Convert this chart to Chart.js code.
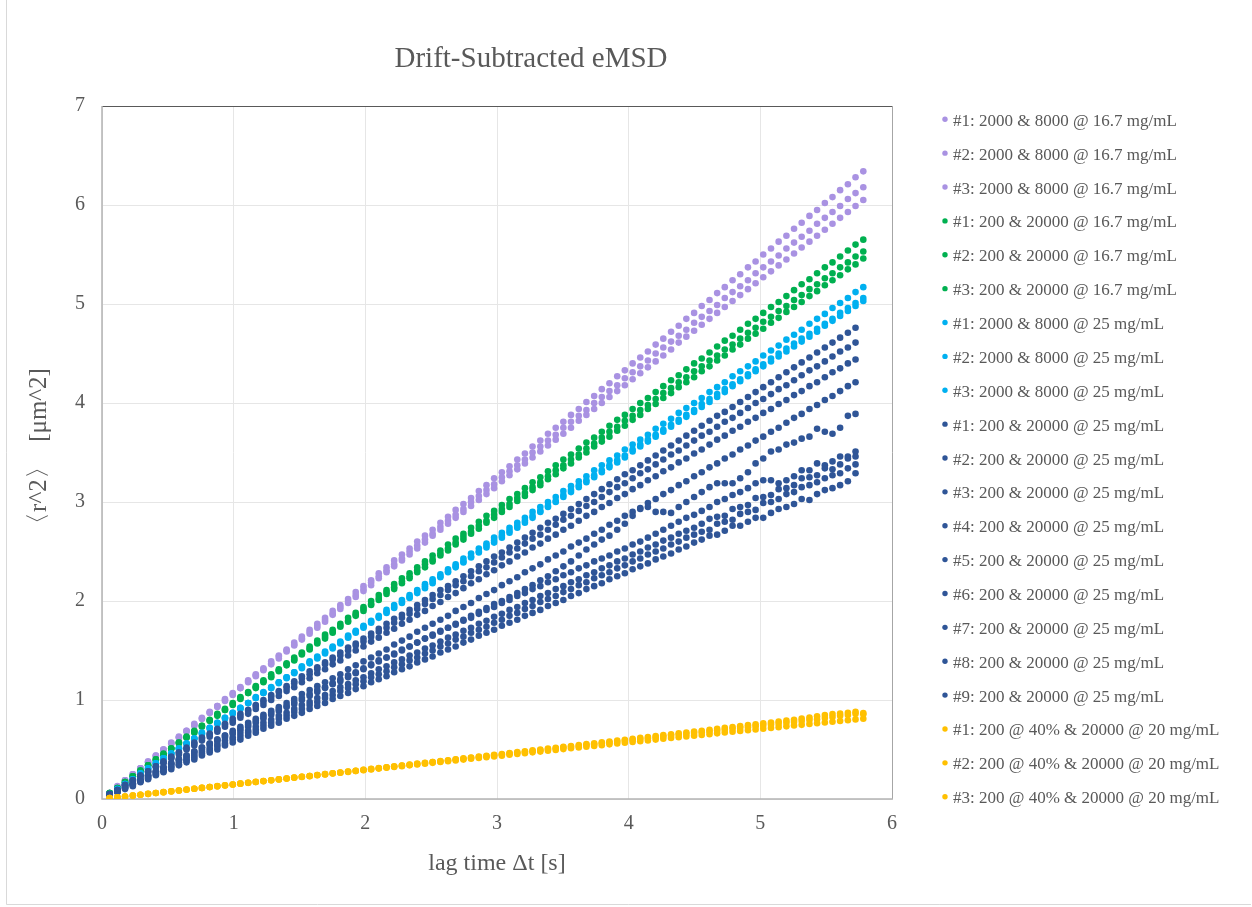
<!DOCTYPE html>
<html><head><meta charset="utf-8">
<script src="https://cdn.jsdelivr.net/npm/chart.js@4.4.1/dist/chart.umd.min.js"></script>
<style>html,body{margin:0;padding:0;background:#fff;}#wrap{position:relative;width:1252px;height:907px;}</style>
</head><body><div id="wrap"><canvas id="c" width="1252" height="907"></canvas></div>
<script>
const chartTitle = 'Drift-Subtracted eMSD';
const xTitle = 'lag time Δt [s]';
const yTitle = '〈r^2〉  [μm^2]';

const lagTimes = [0.058,0.117,0.175,0.234,0.292,0.350,0.409,0.467,0.526,0.584,
0.642,0.701,0.759,0.818,0.876,0.934,0.993,1.051,1.110,1.168,
1.226,1.285,1.343,1.402,1.460,1.518,1.577,1.635,1.694,1.752,
1.810,1.869,1.927,1.986,2.044,2.102,2.161,2.219,2.278,2.336,
2.394,2.453,2.511,2.570,2.628,2.686,2.745,2.803,2.862,2.920,
2.978,3.037,3.095,3.154,3.212,3.270,3.329,3.387,3.446,3.504,
3.562,3.621,3.679,3.738,3.796,3.854,3.913,3.971,4.030,4.088,
4.146,4.205,4.263,4.322,4.380,4.438,4.497,4.555,4.614,4.672,
4.730,4.789,4.847,4.906,4.964,5.022,5.081,5.139,5.198,5.256,
5.314,5.373,5.431,5.490,5.548,5.606,5.665,5.723,5.782];

const seriesLabels = [
'#1: 2000 & 8000 @ 16.7 mg/mL','#2: 2000 & 8000 @ 16.7 mg/mL','#3: 2000 & 8000 @ 16.7 mg/mL',
'#1: 200 & 20000 @ 16.7 mg/mL','#2: 200 & 20000 @ 16.7 mg/mL','#3: 200 & 20000 @ 16.7 mg/mL',
'#1: 2000 & 8000 @ 25 mg/mL','#2: 2000 & 8000 @ 25 mg/mL','#3: 2000 & 8000 @ 25 mg/mL',
'#1: 200 & 20000 @ 25 mg/mL','#2: 200 & 20000 @ 25 mg/mL','#3: 200 & 20000 @ 25 mg/mL',
'#4: 200 & 20000 @ 25 mg/mL','#5: 200 & 20000 @ 25 mg/mL','#6: 200 & 20000 @ 25 mg/mL',
'#7: 200 & 20000 @ 25 mg/mL','#8: 200 & 20000 @ 25 mg/mL','#9: 200 & 20000 @ 25 mg/mL',
'#1: 200 @ 40% & 20000 @ 20 mg/mL','#2: 200 @ 40% & 20000 @ 20 mg/mL','#3: 200 @ 40% & 20000 @ 20 mg/mL'];

const purple1 = [0.06,0.13,0.19,0.25,0.31,0.38,0.44,0.50,0.57,0.63,
0.69,0.76,0.82,0.88,0.94,1.01,1.07,1.13,1.20,1.26,
1.32,1.39,1.45,1.51,1.58,1.64,1.71,1.77,1.83,1.90,
1.96,2.02,2.09,2.15,2.21,2.28,2.34,2.41,2.47,2.53,
2.60,2.66,2.72,2.79,2.85,2.92,2.98,3.04,3.11,3.17,
3.24,3.30,3.36,3.43,3.49,3.56,3.62,3.69,3.75,3.81,
3.88,3.94,4.01,4.07,4.14,4.20,4.27,4.33,4.40,4.46,
4.52,4.59,4.65,4.72,4.78,4.85,4.91,4.98,5.04,5.11,
5.17,5.24,5.30,5.37,5.43,5.50,5.56,5.63,5.69,5.76,
5.82,5.89,5.95,6.02,6.08,6.15,6.21,6.28,6.34];
const purple2 = [0.06,0.12,0.19,0.25,0.31,0.37,0.44,0.50,0.56,0.62,
0.69,0.75,0.81,0.87,0.94,1.00,1.06,1.12,1.19,1.25,
1.31,1.37,1.44,1.50,1.56,1.62,1.69,1.75,1.81,1.87,
1.94,2.00,2.06,2.12,2.19,2.25,2.31,2.37,2.43,2.50,
2.56,2.62,2.68,2.75,2.81,2.87,2.93,3.00,3.06,3.12,
3.18,3.25,3.31,3.37,3.43,3.50,3.56,3.62,3.68,3.75,
3.81,3.87,3.93,4.00,4.06,4.12,4.18,4.25,4.31,4.37,
4.43,4.50,4.56,4.62,4.68,4.74,4.81,4.87,4.93,4.99,
5.06,5.12,5.18,5.24,5.31,5.37,5.43,5.49,5.56,5.62,
5.68,5.74,5.81,5.87,5.93,5.99,6.06,6.12,6.18];
const purple3 = [0.06,0.12,0.19,0.25,0.31,0.37,0.43,0.50,0.56,0.62,
0.68,0.74,0.81,0.87,0.93,0.99,1.05,1.12,1.18,1.24,
1.30,1.36,1.42,1.49,1.55,1.61,1.67,1.73,1.79,1.86,
1.92,1.98,2.04,2.10,2.16,2.23,2.29,2.35,2.41,2.47,
2.53,2.59,2.66,2.72,2.78,2.84,2.90,2.96,3.02,3.08,
3.14,3.21,3.27,3.33,3.39,3.45,3.51,3.57,3.63,3.69,
3.75,3.82,3.88,3.94,4.00,4.06,4.12,4.18,4.24,4.30,
4.36,4.42,4.48,4.54,4.61,4.67,4.73,4.79,4.85,4.91,
4.97,5.03,5.09,5.15,5.21,5.27,5.33,5.39,5.45,5.51,
5.57,5.63,5.69,5.75,5.81,5.87,5.93,5.99,6.05];
const green1 = [0.06,0.11,0.17,0.23,0.29,0.34,0.40,0.46,0.51,0.57,
0.63,0.69,0.74,0.80,0.86,0.91,0.97,1.03,1.08,1.14,
1.20,1.26,1.31,1.37,1.43,1.48,1.54,1.60,1.66,1.71,
1.77,1.83,1.88,1.94,2.00,2.06,2.11,2.17,2.23,2.28,
2.34,2.40,2.46,2.51,2.57,2.63,2.68,2.74,2.80,2.86,
2.91,2.97,3.03,3.08,3.14,3.20,3.25,3.31,3.37,3.43,
3.48,3.54,3.60,3.65,3.71,3.77,3.83,3.88,3.94,4.00,
4.05,4.11,4.17,4.23,4.28,4.34,4.40,4.45,4.51,4.57,
4.63,4.68,4.74,4.80,4.85,4.91,4.97,5.02,5.08,5.14,
5.20,5.25,5.31,5.37,5.42,5.48,5.54,5.60,5.65];
const green2 = [0.06,0.11,0.17,0.23,0.28,0.34,0.40,0.45,0.51,0.57,
0.62,0.68,0.74,0.79,0.85,0.90,0.96,1.02,1.07,1.13,
1.19,1.24,1.30,1.36,1.41,1.47,1.52,1.58,1.64,1.69,
1.75,1.80,1.86,1.92,1.97,2.03,2.09,2.14,2.20,2.25,
2.31,2.37,2.42,2.48,2.53,2.59,2.65,2.70,2.76,2.81,
2.87,2.93,2.98,3.04,3.09,3.15,3.20,3.26,3.32,3.37,
3.43,3.48,3.54,3.59,3.65,3.71,3.76,3.82,3.87,3.93,
3.98,4.04,4.10,4.15,4.21,4.26,4.32,4.37,4.43,4.48,
4.54,4.59,4.65,4.71,4.76,4.82,4.87,4.93,4.98,5.04,
5.09,5.15,5.20,5.26,5.31,5.37,5.42,5.48,5.53];
const green3 = [0.06,0.11,0.17,0.23,0.28,0.34,0.39,0.45,0.51,0.56,
0.62,0.67,0.73,0.79,0.84,0.90,0.95,1.01,1.07,1.12,
1.18,1.23,1.29,1.35,1.40,1.46,1.51,1.57,1.62,1.68,
1.74,1.79,1.85,1.90,1.96,2.01,2.07,2.12,2.18,2.23,
2.29,2.34,2.40,2.46,2.51,2.57,2.62,2.68,2.73,2.79,
2.84,2.90,2.95,3.01,3.06,3.12,3.17,3.23,3.28,3.34,
3.39,3.45,3.50,3.56,3.61,3.66,3.72,3.77,3.83,3.88,
3.94,3.99,4.05,4.10,4.16,4.21,4.26,4.32,4.37,4.43,
4.48,4.54,4.59,4.65,4.70,4.75,4.81,4.86,4.92,4.97,
5.02,5.08,5.13,5.19,5.24,5.29,5.35,5.40,5.46];
const cyan1 = [0.05,0.10,0.15,0.20,0.26,0.31,0.36,0.41,0.46,0.51,
0.56,0.61,0.67,0.72,0.77,0.82,0.87,0.92,0.97,1.03,
1.08,1.13,1.18,1.23,1.28,1.34,1.39,1.44,1.49,1.54,
1.59,1.65,1.70,1.75,1.80,1.85,1.91,1.96,2.01,2.06,
2.11,2.17,2.22,2.27,2.32,2.37,2.43,2.48,2.53,2.58,
2.64,2.69,2.74,2.79,2.84,2.90,2.95,3.00,3.05,3.11,
3.16,3.21,3.26,3.32,3.37,3.42,3.47,3.53,3.58,3.63,
3.68,3.74,3.79,3.84,3.90,3.95,4.00,4.05,4.11,4.16,
4.21,4.27,4.32,4.37,4.42,4.48,4.53,4.58,4.64,4.69,
4.74,4.80,4.85,4.90,4.96,5.01,5.06,5.12,5.17];
const cyan2 = [0.05,0.10,0.15,0.20,0.26,0.31,0.36,0.41,0.46,0.51,
0.56,0.61,0.66,0.72,0.77,0.82,0.87,0.92,0.97,1.02,
1.07,1.12,1.18,1.23,1.28,1.33,1.38,1.43,1.48,1.53,
1.58,1.64,1.69,1.74,1.79,1.84,1.89,1.94,1.99,2.04,
2.10,2.15,2.20,2.25,2.30,2.35,2.40,2.45,2.50,2.56,
2.61,2.66,2.71,2.76,2.81,2.86,2.91,2.96,3.01,3.07,
3.12,3.17,3.22,3.27,3.32,3.37,3.42,3.47,3.53,3.58,
3.63,3.68,3.73,3.78,3.83,3.88,3.93,3.99,4.04,4.09,
4.14,4.19,4.24,4.29,4.34,4.39,4.45,4.50,4.55,4.60,
4.65,4.70,4.75,4.80,4.85,4.91,4.96,5.01,5.06];
const cyan3 = [0.05,0.10,0.15,0.20,0.25,0.30,0.36,0.41,0.46,0.51,
0.56,0.61,0.66,0.71,0.76,0.81,0.86,0.91,0.97,1.02,
1.07,1.12,1.17,1.22,1.27,1.32,1.37,1.42,1.47,1.52,
1.57,1.63,1.68,1.73,1.78,1.83,1.88,1.93,1.98,2.03,
2.08,2.13,2.18,2.24,2.29,2.34,2.39,2.44,2.49,2.54,
2.59,2.64,2.69,2.74,2.79,2.84,2.90,2.95,3.00,3.05,
3.10,3.15,3.20,3.25,3.30,3.35,3.40,3.45,3.51,3.56,
3.61,3.66,3.71,3.76,3.81,3.86,3.91,3.96,4.01,4.06,
4.11,4.17,4.22,4.27,4.32,4.37,4.42,4.47,4.52,4.57,
4.62,4.67,4.72,4.78,4.83,4.88,4.93,4.98,5.03];
const navy1 = [0.05,0.09,0.14,0.19,0.24,0.28,0.33,0.38,0.43,0.47,
0.52,0.57,0.62,0.66,0.71,0.76,0.81,0.86,0.90,0.95,
1.00,1.05,1.09,1.14,1.19,1.24,1.29,1.33,1.38,1.43,
1.48,1.53,1.57,1.62,1.67,1.72,1.77,1.82,1.86,1.91,
1.96,2.01,2.06,2.11,2.15,2.20,2.25,2.30,2.35,2.40,
2.45,2.49,2.54,2.59,2.64,2.69,2.74,2.79,2.83,2.88,
2.93,2.98,3.03,3.08,3.13,3.18,3.23,3.28,3.32,3.37,
3.42,3.47,3.52,3.57,3.62,3.67,3.72,3.77,3.82,3.87,
3.91,3.96,4.01,4.06,4.11,4.16,4.21,4.26,4.31,4.36,
4.41,4.46,4.51,4.56,4.61,4.66,4.71,4.76];
const navy2 = [0.05,0.09,0.14,0.19,0.23,0.28,0.33,0.37,0.42,0.47,
0.51,0.56,0.61,0.65,0.70,0.75,0.79,0.84,0.89,0.94,
0.98,1.03,1.08,1.12,1.17,1.22,1.26,1.31,1.36,1.41,
1.45,1.50,1.55,1.59,1.64,1.69,1.73,1.78,1.83,1.87,
1.92,1.97,2.02,2.06,2.11,2.16,2.20,2.25,2.30,2.34,
2.39,2.44,2.49,2.53,2.58,2.63,2.67,2.72,2.77,2.82,
2.86,2.91,2.96,3.00,3.05,3.10,3.15,3.19,3.24,3.29,
3.33,3.38,3.43,3.48,3.52,3.57,3.62,3.67,3.71,3.76,
3.81,3.85,3.90,3.95,4.00,4.04,4.09,4.14,4.18,4.23,
4.28,4.33,4.37,4.42,4.47,4.52,4.56,4.61];
const navy3 = [0.05,0.09,0.14,0.18,0.23,0.27,0.32,0.36,0.41,0.45,
0.50,0.54,0.59,0.63,0.68,0.73,0.77,0.82,0.86,0.91,
0.95,1.00,1.04,1.09,1.13,1.18,1.22,1.27,1.31,1.36,
1.40,1.45,1.50,1.54,1.59,1.63,1.68,1.72,1.77,1.81,
1.86,1.90,1.95,1.99,2.04,2.08,2.13,2.18,2.22,2.27,
2.31,2.36,2.40,2.45,2.49,2.54,2.58,2.63,2.67,2.72,
2.76,2.81,2.86,2.90,2.95,2.99,3.04,3.08,3.13,3.17,
3.22,3.26,3.31,3.35,3.40,3.44,3.49,3.53,3.58,3.63,
3.67,3.72,3.76,3.81,3.85,3.90,3.94,3.99,4.03,4.08,
4.12,4.17,4.21,4.26,4.31,4.35,4.40,4.44];
const navy4 = [0.04,0.08,0.12,0.16,0.20,0.24,0.28,0.32,0.36,0.40,
0.44,0.48,0.52,0.56,0.60,0.64,0.69,0.73,0.77,0.81,
0.85,0.89,0.93,0.97,1.01,1.06,1.10,1.14,1.18,1.22,
1.26,1.31,1.35,1.39,1.43,1.47,1.51,1.56,1.60,1.64,
1.69,1.73,1.77,1.81,1.85,1.90,1.94,1.98,2.03,2.07,
2.11,2.16,2.20,2.24,2.29,2.33,2.37,2.42,2.46,2.50,
2.55,2.59,2.63,2.68,2.72,2.77,2.81,2.86,2.90,2.94,
2.99,3.03,3.08,3.12,3.17,3.21,3.26,3.30,3.35,3.39,
3.44,3.48,3.53,3.57,3.62,3.66,3.71,3.75,3.80,3.85,
3.89,3.94,3.98,4.03,4.07,4.12,4.17,4.21];
const navy5 = [0.04,0.08,0.12,0.15,0.19,0.23,0.27,0.31,0.35,0.39,
0.42,0.46,0.50,0.54,0.58,0.62,0.66,0.69,0.73,0.77,
0.81,0.85,0.89,0.93,0.96,1.00,1.04,1.08,1.12,1.16,
1.19,1.23,1.27,1.31,1.35,1.39,1.43,1.46,1.50,1.54,
1.58,1.62,1.66,1.70,1.73,1.77,1.81,1.85,1.89,1.93,
1.97,2.00,2.04,2.08,2.12,2.16,2.21,2.25,2.30,2.35,
2.40,2.46,2.52,2.57,2.62,2.66,2.72,2.78,2.86,2.93,
2.95,2.90,2.90,2.89,2.95,3.00,3.05,3.10,3.15,3.19,
3.19,3.19,3.24,3.30,3.39,3.44,3.51,3.53,3.58,3.60,
3.64,3.66,3.74,3.71,3.69,3.75,3.87,3.89];
const navy6 = [0.04,0.08,0.12,0.16,0.20,0.24,0.28,0.32,0.36,0.40,
0.44,0.48,0.52,0.56,0.60,0.64,0.67,0.71,0.75,0.79,
0.83,0.87,0.91,0.94,0.98,1.02,1.06,1.10,1.13,1.17,
1.21,1.25,1.28,1.32,1.36,1.40,1.43,1.47,1.51,1.54,
1.58,1.62,1.65,1.69,1.73,1.76,1.80,1.83,1.87,1.91,
1.94,1.98,2.01,2.05,2.08,2.12,2.15,2.19,2.22,2.26,
2.29,2.33,2.36,2.40,2.43,2.46,2.50,2.53,2.57,2.60,
2.64,2.68,2.72,2.76,2.80,2.84,2.87,2.91,2.95,3.00,
3.03,3.07,3.10,3.14,3.19,3.22,3.22,3.19,3.22,3.26,
3.32,3.32,3.39,3.37,3.41,3.46,3.46,3.51];
const navy7 = [0.04,0.07,0.11,0.15,0.18,0.22,0.26,0.29,0.33,0.37,
0.40,0.44,0.48,0.51,0.55,0.59,0.62,0.66,0.69,0.73,
0.77,0.80,0.84,0.87,0.91,0.95,0.98,1.02,1.05,1.09,
1.13,1.16,1.20,1.23,1.27,1.31,1.34,1.38,1.41,1.45,
1.48,1.52,1.55,1.59,1.63,1.66,1.70,1.73,1.77,1.80,
1.84,1.87,1.91,1.94,1.98,2.01,2.05,2.08,2.12,2.15,
2.19,2.22,2.26,2.29,2.33,2.36,2.40,2.43,2.47,2.50,
2.54,2.57,2.61,2.64,2.68,2.71,2.74,2.78,2.83,2.85,
2.86,2.93,2.95,2.97,3.04,3.05,3.07,3.13,3.14,3.17,
3.24,3.25,3.27,3.34,3.33,3.38,3.44,3.46];
const navy8 = [0.04,0.07,0.11,0.14,0.18,0.21,0.25,0.28,0.32,0.35,
0.39,0.42,0.46,0.49,0.53,0.56,0.60,0.63,0.67,0.70,
0.74,0.77,0.81,0.84,0.88,0.91,0.95,0.98,1.02,1.05,
1.09,1.12,1.16,1.19,1.23,1.26,1.29,1.33,1.36,1.40,
1.43,1.47,1.50,1.54,1.57,1.61,1.64,1.68,1.71,1.74,
1.78,1.81,1.85,1.88,1.92,1.95,1.99,2.02,2.05,2.09,
2.12,2.16,2.19,2.23,2.26,2.29,2.33,2.36,2.40,2.43,
2.47,2.50,2.53,2.57,2.60,2.64,2.67,2.70,2.72,2.78,
2.80,2.82,2.88,2.90,2.92,2.99,3.00,3.03,3.08,3.10,
3.15,3.17,3.20,3.24,3.27,3.29,3.34,3.38];
const navy9 = [0.03,0.07,0.10,0.13,0.17,0.20,0.24,0.27,0.30,0.34,
0.37,0.40,0.44,0.47,0.50,0.54,0.57,0.60,0.64,0.67,
0.71,0.74,0.77,0.81,0.84,0.87,0.91,0.94,0.97,1.01,
1.04,1.07,1.11,1.14,1.18,1.21,1.24,1.28,1.31,1.34,
1.38,1.41,1.44,1.48,1.51,1.54,1.58,1.61,1.65,1.68,
1.71,1.75,1.78,1.81,1.85,1.88,1.91,1.95,1.98,2.01,
2.05,2.08,2.12,2.15,2.18,2.22,2.25,2.28,2.32,2.35,
2.38,2.42,2.45,2.48,2.52,2.55,2.59,2.62,2.66,2.67,
2.71,2.76,2.76,2.80,2.84,2.84,2.89,2.93,2.95,2.98,
3.03,3.02,3.08,3.12,3.14,3.17,3.21,3.29];
const gold1 = [0.009,0.017,0.026,0.034,0.043,0.051,0.060,0.068,0.077,0.086,
0.094,0.103,0.112,0.120,0.129,0.137,0.146,0.155,0.164,0.172,
0.181,0.190,0.198,0.207,0.216,0.225,0.233,0.242,0.251,0.260,
0.268,0.277,0.286,0.295,0.304,0.312,0.321,0.330,0.339,0.348,
0.357,0.366,0.374,0.383,0.392,0.401,0.410,0.419,0.428,0.437,
0.446,0.455,0.464,0.473,0.482,0.491,0.500,0.509,0.518,0.527,
0.536,0.545,0.554,0.563,0.572,0.581,0.590,0.599,0.608,0.617,
0.627,0.636,0.645,0.654,0.663,0.672,0.681,0.690,0.700,0.709,
0.718,0.727,0.736,0.746,0.755,0.764,0.773,0.783,0.792,0.801,
0.812,0.823,0.835,0.848,0.858,0.862,0.870,0.882,0.868];
const gold2 = [0.009,0.017,0.026,0.035,0.043,0.052,0.061,0.069,0.078,0.086,
0.095,0.104,0.112,0.121,0.130,0.138,0.147,0.156,0.164,0.173,
0.182,0.190,0.199,0.207,0.216,0.225,0.233,0.242,0.251,0.259,
0.268,0.277,0.285,0.294,0.303,0.311,0.320,0.328,0.337,0.346,
0.354,0.363,0.372,0.380,0.389,0.398,0.406,0.415,0.424,0.432,
0.441,0.449,0.458,0.467,0.475,0.484,0.493,0.501,0.510,0.519,
0.527,0.536,0.545,0.553,0.562,0.570,0.579,0.588,0.596,0.605,
0.614,0.622,0.631,0.640,0.648,0.657,0.666,0.674,0.683,0.691,
0.700,0.709,0.717,0.726,0.735,0.743,0.752,0.761,0.769,0.778,
0.787,0.797,0.806,0.818,0.828,0.840,0.848,0.860,0.855];
const gold3 = [0.009,0.017,0.026,0.035,0.043,0.052,0.061,0.069,0.078,0.086,
0.095,0.104,0.112,0.121,0.129,0.138,0.146,0.155,0.163,0.172,
0.180,0.189,0.197,0.206,0.214,0.223,0.231,0.240,0.248,0.257,
0.265,0.273,0.282,0.290,0.298,0.307,0.315,0.323,0.332,0.340,
0.348,0.356,0.365,0.373,0.381,0.389,0.398,0.406,0.414,0.422,
0.430,0.438,0.447,0.455,0.463,0.471,0.479,0.487,0.495,0.504,
0.512,0.520,0.528,0.536,0.544,0.552,0.560,0.568,0.576,0.584,
0.592,0.600,0.608,0.616,0.624,0.632,0.640,0.647,0.655,0.663,
0.671,0.679,0.687,0.695,0.703,0.710,0.718,0.726,0.734,0.742,
0.749,0.757,0.765,0.773,0.780,0.788,0.796,0.804,0.811];

const seriesValues = [purple1,purple2,purple3,green1,green2,green3,cyan1,cyan2,cyan3,
navy1,navy2,navy3,navy4,navy5,navy6,navy7,navy8,navy9,gold1,gold2,gold3];
const seriesColors = ['#A992E2','#A992E2','#A992E2','#00B050','#00B050','#00B050',
'#00B0F0','#00B0F0','#00B0F0','#2F5597','#2F5597','#2F5597','#2F5597','#2F5597',
'#2F5597','#2F5597','#2F5597','#2F5597','#FFC000','#FFC000','#FFC000'];

const FONT = "'Liberation Serif','Times New Roman',serif";
const TXT = '#595959';

const datasets = seriesValues.map((vals, i) => ({
  label: seriesLabels[i],
  data: vals.map((v, j) => ({x: lagTimes[j], y: v})),
  backgroundColor: seriesColors[i],
  borderWidth: 0,
  pointRadius: 3.3,
  pointHoverRadius: 3.3,
  showLine: false,
  order: -i
}));

const decor = {
  id: 'decor',
  beforeDraw(chart) {
    const c = chart.ctx;
    c.save(); c.fillStyle = '#fff'; c.fillRect(0, 0, chart.width, chart.height); c.restore();
  },
  beforeDatasetsDraw(chart) {
    const c = chart.ctx, a = chart.chartArea;
    c.save();
    c.lineWidth = 1;
    c.strokeStyle = '#595959';
    c.beginPath(); c.moveTo(a.left, a.top + 0.5); c.lineTo(a.right, a.top + 0.5); c.stroke();
    c.strokeStyle = '#a6a6a6';
    c.beginPath(); c.moveTo(a.right + 0.5, a.top); c.lineTo(a.right + 0.5, a.bottom); c.stroke();
    c.strokeStyle = '#b4b4b4'; c.lineWidth = 1.5;
    c.beginPath(); c.moveTo(a.left, a.top); c.lineTo(a.left, a.bottom); c.lineTo(a.right + 1, a.bottom); c.stroke();
    c.restore();
  },
  afterDraw(chart) {
    const c = chart.ctx;
    c.save();
    c.fillStyle = TXT;
    c.font = "29px " + FONT;
    c.textAlign = 'center'; c.textBaseline = 'alphabetic';
    c.fillText(chartTitle, 531, 67);
    c.font = "17px " + FONT;
    c.textAlign = 'left';
    chart.data.datasets.forEach((ds, i) => {
      const y = 119.3 + i * 33.87;
      c.beginPath(); c.arc(945, y, 2.7, 0, Math.PI * 2);
      c.fillStyle = ds.backgroundColor; c.fill();
      c.fillStyle = TXT;
      c.fillText(ds.label, 953, y + 6.5);
    });
    c.strokeStyle = '#d9d9d9'; c.lineWidth = 1;
    c.beginPath(); c.moveTo(6.5, 0); c.lineTo(6.5, 904.5); c.lineTo(1251, 904.5); c.stroke();
    c.restore();
  }
};

Chart.defaults.font.family = FONT;
new Chart(document.getElementById('c'), {
  type: 'scatter',
  data: {datasets},
  options: {
    responsive: false, animation: false, devicePixelRatio: 1,
    layout: {padding: {left: 0, right: 360, top: 106, bottom: 0}},
    plugins: {legend: {display: false}, title: {display: false}, tooltip: {enabled: false}},
    scales: {
      x: {
        type: 'linear', min: 0, max: 6,
        ticks: {stepSize: 1, padding: 13, color: TXT, font: {size: 20}},
        grid: {color: '#e6e6e6', drawTicks: false},
        border: {display: false},
        title: {display: true, text: xTitle, color: TXT, font: {size: 24}, padding: {top: 0, bottom: 29}},
        afterFit(s) { s.height = 108; }
      },
      y: {
        type: 'linear', min: 0, max: 7,
        ticks: {stepSize: 1, padding: 17, color: TXT, font: {size: 20}},
        grid: {color: '#e6e6e6', drawTicks: false},
        border: {display: false},
        title: {display: true, text: yTitle, color: TXT, font: {size: 25}, padding: {top: 24, bottom: 0}},
        afterFit(s) { s.width = 102; }
      }
    }
  },
  plugins: [decor]
});
</script></body></html>
